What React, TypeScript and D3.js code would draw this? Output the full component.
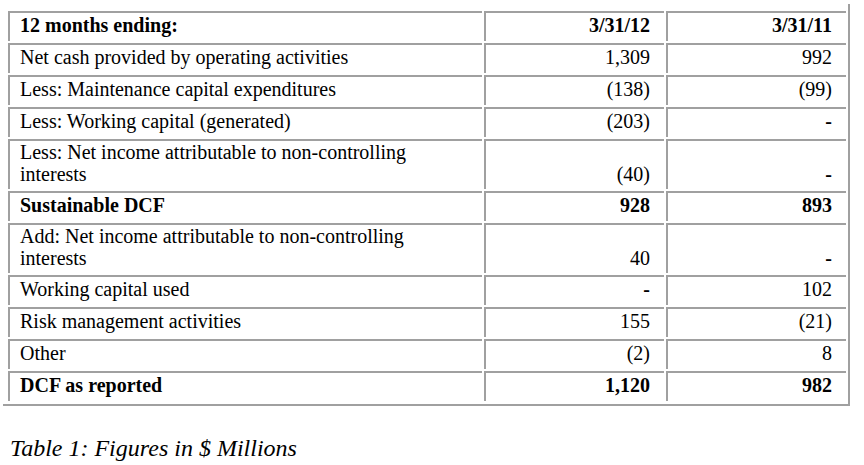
import React from "react";
import * as d3 from "d3";

const headerLabel = "12 months ending:";
const periods = ["3/31/12", "3/31/11"];
const rowLabels = [
  "Net cash provided by operating activities",
  "Less: Maintenance capital expenditures",
  "Less: Working capital (generated)",
  "Less: Net income attributable to non-controlling\ninterests",
  "Sustainable DCF",
  "Add: Net income attributable to non-controlling\ninterests",
  "Working capital used",
  "Risk management activities",
  "Other",
  "DCF as reported",
];
const values2012 = ["1,309", "(138)", "(203)", "(40)", "928", "40", "-", "155", "(2)", "1,120"];
const values2011 = ["992", "(99)", "-", "-", "893", "-", "102", "(21)", "8", "982"];
const boldRows = [false, false, false, false, true, false, false, false, false, true];
const caption = "Table 1: Figures in $ Millions";

const BORDER = "#a0a0a0";
const FONT = "'Liberation Serif', 'Times New Roman', serif";

export default function App() {
  const W = 864;
  const H = 465;
  const rows = [
    { label: headerLabel, v: periods, bold: true },
    ...rowLabels.map((l, i) => ({ label: l, v: [values2012[i], values2011[i]], bold: boldRows[i] })),
  ];
  const lines = rows.map((r) => r.label.split("\n"));
  const heights = lines.map((ls) => (ls.length > 1 ? 52 : 32));
  const cum = Array.from(d3.cumsum(heights));
  const tops = heights.map((h, i) => cum[i] - h);
  const y = d3.scaleLinear().domain([0, cum[cum.length - 1]]).range([11, 11 + cum[cum.length - 1]]);

  const colX0 = [8, 484, 666];
  const colX1 = [482, 664, 846];
  const numRight = [650, 832];
  const fs = 20;
  const lineH = 22;
  const tableBottom = 404;

  return (
    <svg width={W} height={H} style={{ position: "absolute", left: 0, top: 0, background: "#fff" }}>
      <rect x={0} y={0} width={W} height={H} fill="#fff" />
      {rows.map((r, i) => {
        const y0 = y(tops[i]);
        const y1 = i === rows.length - 1 ? tableBottom - 3 : y(cum[i]) - 2;
        const ls = lines[i];
        const baseLast = y0 + 21 + (ls.length - 1) * lineH - (ls.length > 1 ? 1 : 0);
        return (
          <g key={i}>
            {colX0.map((x0, c) => (
              <g key={c}>
                <rect x={x0} y={y0} width={colX1[c] - x0} height={2} fill={BORDER} />
                <rect x={x0} y={y0} width={2} height={y1 - y0} fill={BORDER} />
              </g>
            ))}
            {ls.map((t, k) => (
              <text
                key={k}
                x={20}
                y={baseLast - (ls.length - 1 - k) * lineH}
                fontFamily={FONT}
                fontSize={fs}
                fontWeight={r.bold ? "bold" : "normal"}
                fill="#000"
              >
                {t}
              </text>
            ))}
            {r.v.map((v, c) => (
              <text
                key={"v" + c}
                x={numRight[c]}
                y={baseLast}
                textAnchor="end"
                fontFamily={FONT}
                fontSize={fs}
                fontWeight={r.bold || v === "-" ? "bold" : "normal"}
                fill="#000"
              >
                {v}
              </text>
            ))}
          </g>
        );
      })}
      <rect x={848} y={4} width={2} height={tableBottom + 2 - 4} fill={BORDER} />
      <rect x={3} y={tableBottom} width={847} height={2} fill={BORDER} />
      <text x={10} y={456} fontFamily={FONT} fontSize={24} fontStyle="italic" fill="#000">
        {caption}
      </text>
    </svg>
  );
}
